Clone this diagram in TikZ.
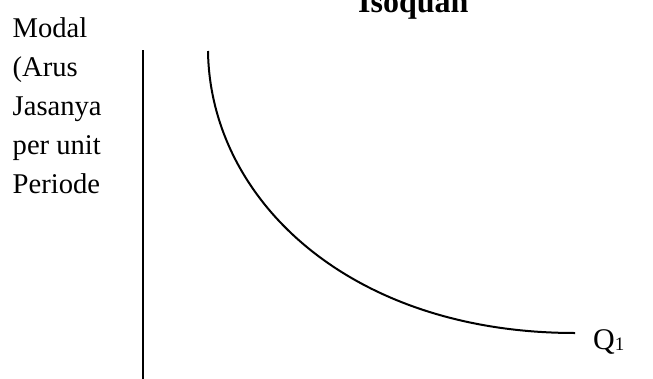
\documentclass[tikz,border=0pt]{standalone}
\usepackage{fontspec}
\setmainfont{Liberation Serif}
\begin{document}
\begin{tikzpicture}[x=1pt,y=-1pt,
  lbl/.style={anchor=base west, inner sep=0pt, font=\fontsize{28.6}{28.6}\selectfont},
  ttl/.style={anchor=base west, inner sep=0pt, font=\fontsize{32}{32}\selectfont\bfseries},
  qlbl/.style={anchor=base west, inner sep=0pt, font=\fontsize{30}{30}\selectfont},
  axisline/.style={line width=2pt},
  isoline/.style={line width=2pt}]
\useasboundingbox (0,0) rectangle (653,378);
\node[ttl] (title) at (358,12.5) {Isoquan};
\node[lbl] (l1) at (12.5,37) {Modal};
\node[lbl] (l2) at (12.5,76) {(Arus};
\node[lbl] (l3) at (12.5,115) {Jasanya};
\node[lbl] (l4) at (12.5,154) {per unit};
\node[lbl] (l5) at (12.5,193) {Periode};
\coordinate (axtop) at (143,50);
\coordinate (axbot) at (143,380);
\draw[axisline] (axtop) -- (axbot);
\coordinate (cs) at (208,51);
\coordinate (ce) at (575,333);
\draw[isoline] (cs) .. controls (210,200) and (350,333) .. (ce);
\node[qlbl] (q1) at (593,349) {Q\raisebox{-1pt}{\fontsize{19}{19}\selectfont 1}};
\end{tikzpicture}
\end{document}
